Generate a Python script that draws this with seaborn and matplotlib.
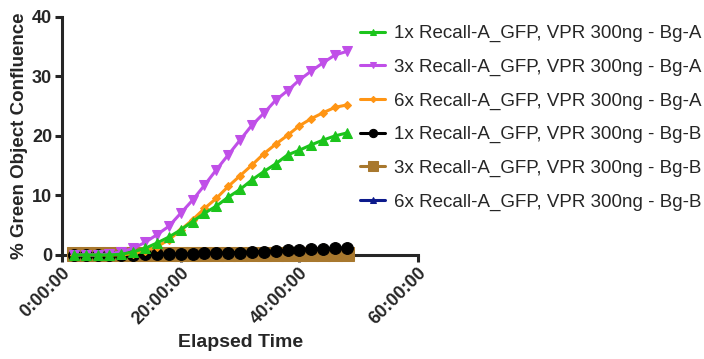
import numpy as np
import pandas as pd
import seaborn as sns
from matplotlib import pyplot as plt

# elapsed time in hours, one scan every 2 h
hours = [2, 4, 6, 8, 10, 12, 14, 16, 18, 20, 22, 24,
         26, 28, 30, 32, 34, 36, 38, 40, 42, 44, 46, 48]

one_x_a = [0, 0, 0, 0, 0.1, 0.5, 1.1, 2.0, 3.0, 4.2, 5.6, 7.0,
           8.2, 9.7, 11.0, 12.6, 14.0, 15.3, 16.8, 17.6, 18.5, 19.3, 20.0, 20.5]
three_x_a = [0, 0, 0, 0.2, 0.5, 1.1, 2.1, 3.4, 4.8, 7.0, 9.2, 11.7,
             14.3, 16.8, 19.3, 21.8, 23.8, 26.0, 27.6, 29.4, 30.9, 32.3, 33.6, 34.2]
six_x_a = [0, 0, 0, 0, 0, 0.2, 0.7, 1.4, 2.5, 4.2, 5.9, 7.8,
           9.5, 11.5, 13.3, 15.1, 17.0, 18.6, 20.1, 21.7, 22.9, 23.9, 24.8, 25.2]
one_x_b = [0, 0, 0, 0, 0, 0.05, 0.1, 0.1, 0.15, 0.15, 0.2, 0.25,
           0.3, 0.35, 0.4, 0.5, 0.55, 0.65, 0.75, 0.85, 0.95, 1.0, 1.1, 1.2]
three_x_b = [0.1, 0.1, 0.1, 0.1, 0.1, 0.1, 0.1, 0.1, 0.1, 0.1, 0.1, 0.1,
             0.1, 0.1, 0.1, 0.1, 0.1, 0.1, 0.1, 0.1, 0.1, 0.1, 0.1, 0.1]
six_x_b = [0, 0, 0, 0, 0, 0, 0, 0, 0, 0, 0, 0,
           0, 0, 0, 0, 0, 0, 0, 0, 0, 0, 0, 0]

labels = ["1x Recall-A_GFP, VPR 300ng - Bg-A",
          "3x Recall-A_GFP, VPR 300ng - Bg-A",
          "6x Recall-A_GFP, VPR 300ng - Bg-A",
          "1x Recall-A_GFP, VPR 300ng - Bg-B",
          "3x Recall-A_GFP, VPR 300ng - Bg-B",
          "6x Recall-A_GFP, VPR 300ng - Bg-B"]
series = [one_x_a, three_x_a, six_x_a, one_x_b, three_x_b, six_x_b]
colors = ["#1cc41c", "#c04fe8", "#ff9514", "#000000", "#a8782e", "#0c1a8c"]
markers = ["^", "v", "D", "o", "s", "^"]
msizes = [7, 7, 4.5, 8.5, 10, 7]

x_ticks = [0, 20, 40, 60]
x_tick_labels = ["0:00:00", "20:00:00", "40:00:00", "60:00:00"]
y_ticks = [0, 10, 20, 30, 40]

sns.set_style("ticks")
plt.rcParams["font.family"] = ["Liberation Sans", "DejaVu Sans"]

df = pd.DataFrame({"hours": np.tile(hours, len(series)),
                   "value": np.concatenate(series),
                   "label": np.repeat(labels, len(hours))})

fig = plt.figure(figsize=(7.04, 3.59), dpi=100)
ax = fig.add_axes([0.088, 0.29, 0.506, 0.663])

# first series drawn on top, like the prism export
for i, lab in enumerate(labels):
    sns.lineplot(data=df[df["label"] == lab], x="hours", y="value", ax=ax,
                 color=colors[i], marker=markers[i], markersize=msizes[i],
                 markeredgecolor=colors[i], linewidth=2.2, label=lab,
                 zorder=10 - i, clip_on=False)

ax.set_xlim(0, 60)
ax.set_ylim(0, 40)
ax.set_xticks(x_ticks)
ax.set_xticklabels(x_tick_labels, rotation=45, ha="right", va="top",
                   rotation_mode="anchor", fontsize=13, fontweight="bold")
ax.set_yticks(y_ticks)
ax.set_yticklabels([str(v) for v in y_ticks], fontsize=13, fontweight="bold")
ax.tick_params(width=2.2, length=5, pad=2)
for s in ["left", "bottom"]:
    ax.spines[s].set_linewidth(2.2)
sns.despine(ax=ax)
ax.set_xlabel("Elapsed Time", fontsize=14, fontweight="bold", labelpad=4)
ax.set_ylabel("% Green Object Confluence", fontsize=13.5, fontweight="bold", labelpad=3)

handles, labs = ax.get_legend_handles_labels()
ax.get_legend().remove()
fig.legend(handles, labs, loc="upper left", bbox_to_anchor=(0.512, 0.93),
           frameon=False, fontsize=13.5, handlelength=1.3, handletextpad=0.5,
           labelspacing=0.87, markerscale=0.7, borderpad=0, borderaxespad=0)

fig.savefig("out.png", dpi=100)
